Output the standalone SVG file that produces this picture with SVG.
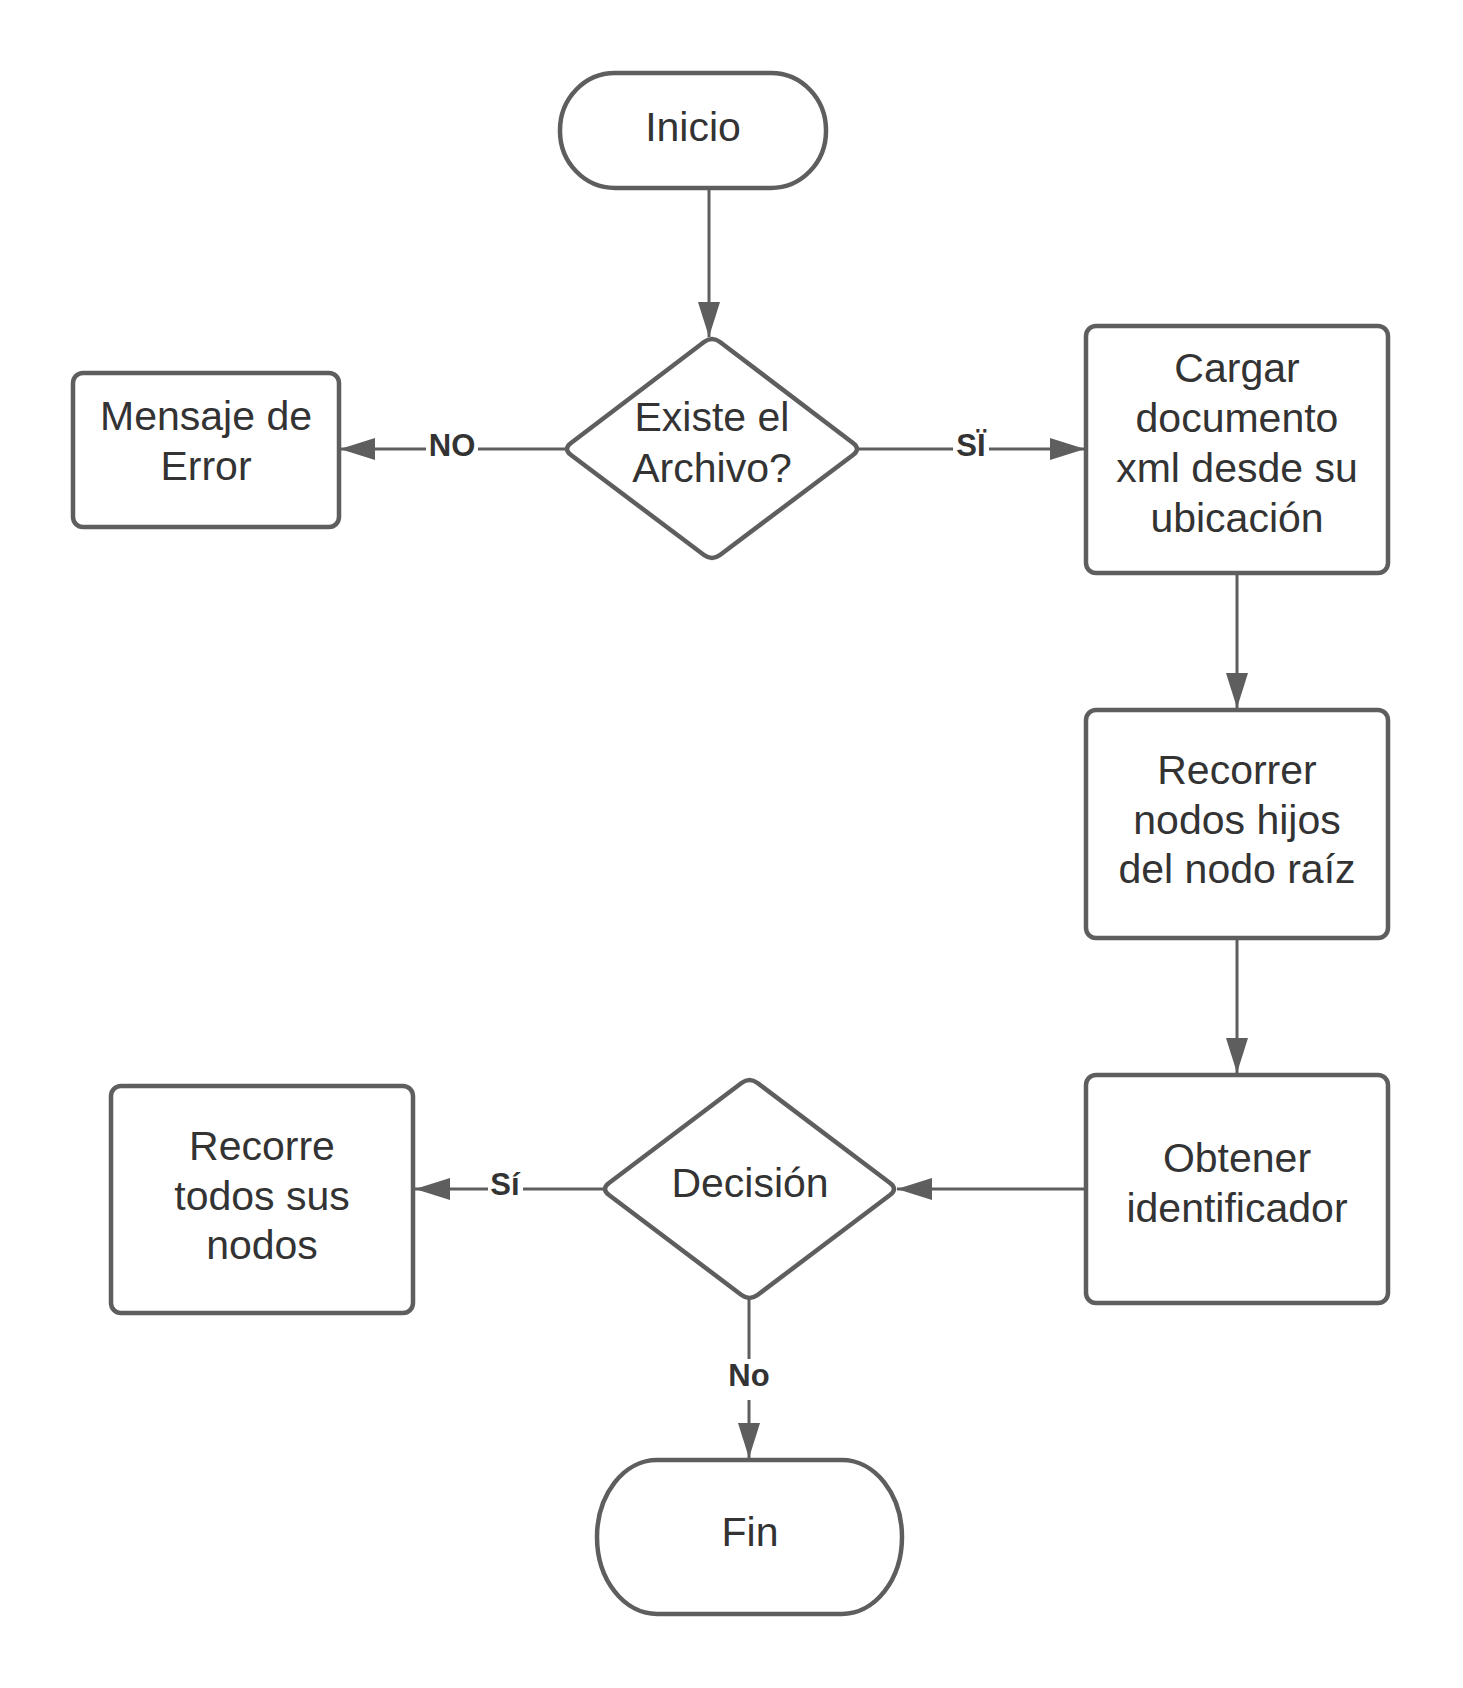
<svg xmlns="http://www.w3.org/2000/svg" width="1463" height="1688" viewBox="0 0 1463 1688">
<style>
.shape{fill:#ffffff;stroke:#5e5e5e;stroke-width:4.5;stroke-linejoin:round}
.t{font-family:"Liberation Sans",Arial,sans-serif;font-size:41px;fill:#333333;text-anchor:middle}
.conn{stroke:#5e5e5e;stroke-width:3;fill:none;marker-end:url(#arr)}
.lbl{font-family:"Liberation Sans",Arial,sans-serif;font-size:31px;font-weight:bold;fill:#333333;text-anchor:middle}
.lblbg{fill:#ffffff}
</style>
<defs>
<marker id="arr" viewBox="0 0 35 22" refX="35" refY="11" markerWidth="35" markerHeight="22" markerUnits="userSpaceOnUse" orient="auto">
<path d="M0,0 L35,11 L0,22 z" fill="#5e5e5e"/>
</marker>
</defs>
<rect width="1463" height="1688" fill="#ffffff"/>
<g id="connectors">
<line class="conn" x1="709" y1="188" x2="709" y2="337"/>
<line class="conn" x1="565" y1="449" x2="340" y2="449"/>
<line class="conn" x1="859" y1="449" x2="1085" y2="449"/>
<line class="conn" x1="1237" y1="573" x2="1237" y2="708"/>
<line class="conn" x1="1237" y1="938" x2="1237" y2="1073"/>
<line class="conn" x1="1086" y1="1189" x2="897" y2="1189"/>
<line class="conn" x1="603" y1="1189" x2="415" y2="1189"/>
<line class="conn" x1="749" y1="1299" x2="749" y2="1458"/>
<rect class="lblbg" x="426" y="432" width="52" height="32"/>
<text class="lbl" x="452" y="456">NO</text>
<rect class="lblbg" x="953" y="432" width="36" height="32"/>
<text class="lbl" x="971" y="456">SÏ</text>
<rect class="lblbg" x="488" y="1172" width="35" height="32"/>
<text class="lbl" x="505" y="1195">Sí</text>
<rect class="lblbg" x="726" y="1359" width="46" height="41"/>
<text class="lbl" x="749" y="1386">No</text>
</g>
<g id="inicio">
<rect class="shape" x="560" y="73" width="266" height="115" rx="55" ry="57"/>
<text class="t" x="693" y="141">Inicio</text>
</g>
<g id="existe">
<path class="shape" d="M704,342 Q712,336 720,342 L853,443 Q861,449 853,455 L720,555 Q712,561 704,555 L571,455 Q563,449 571,443 Z"/>
<text class="t" x="712" y="431">Existe el</text>
<text class="t" x="712" y="482">Archivo?</text>
</g>
<g id="mensaje">
<rect class="shape" x="73" y="373" width="266" height="154" rx="10"/>
<text class="t" x="206" y="430">Mensaje de</text>
<text class="t" x="206" y="480">Error</text>
</g>
<g id="cargar">
<rect class="shape" x="1086" y="326" width="302" height="247" rx="10"/>
<text class="t" x="1237" y="382">Cargar</text>
<text class="t" x="1237" y="432">documento</text>
<text class="t" x="1237" y="482">xml desde su</text>
<text class="t" x="1237" y="532">ubicación</text>
</g>
<g id="recorrer">
<rect class="shape" x="1086" y="710" width="302" height="228" rx="10"/>
<text class="t" x="1237" y="784">Recorrer</text>
<text class="t" x="1237" y="834">nodos hijos</text>
<text class="t" x="1237" y="883">del nodo raíz</text>
</g>
<g id="obtener">
<rect class="shape" x="1086" y="1075" width="302" height="228" rx="10"/>
<text class="t" x="1237" y="1172">Obtener</text>
<text class="t" x="1237" y="1222">identificador</text>
</g>
<g id="decision">
<path class="shape" d="M741.5,1083 Q749.5,1077 757.5,1083 L890,1183 Q898,1189 890,1195 L757.5,1295 Q749.5,1301 741.5,1295 L609,1195 Q601,1189 609,1183 Z"/>
<text class="t" x="750" y="1197">Decisión</text>
</g>
<g id="recorre">
<rect class="shape" x="111" y="1086" width="302" height="227" rx="10"/>
<text class="t" x="262" y="1160">Recorre</text>
<text class="t" x="262" y="1210">todos sus</text>
<text class="t" x="262" y="1259">nodos</text>
</g>
<g id="fin">
<rect class="shape" x="597" y="1460" width="305" height="154" rx="60" ry="77"/>
<text class="t" x="750" y="1546">Fin</text>
</g>
</svg>
